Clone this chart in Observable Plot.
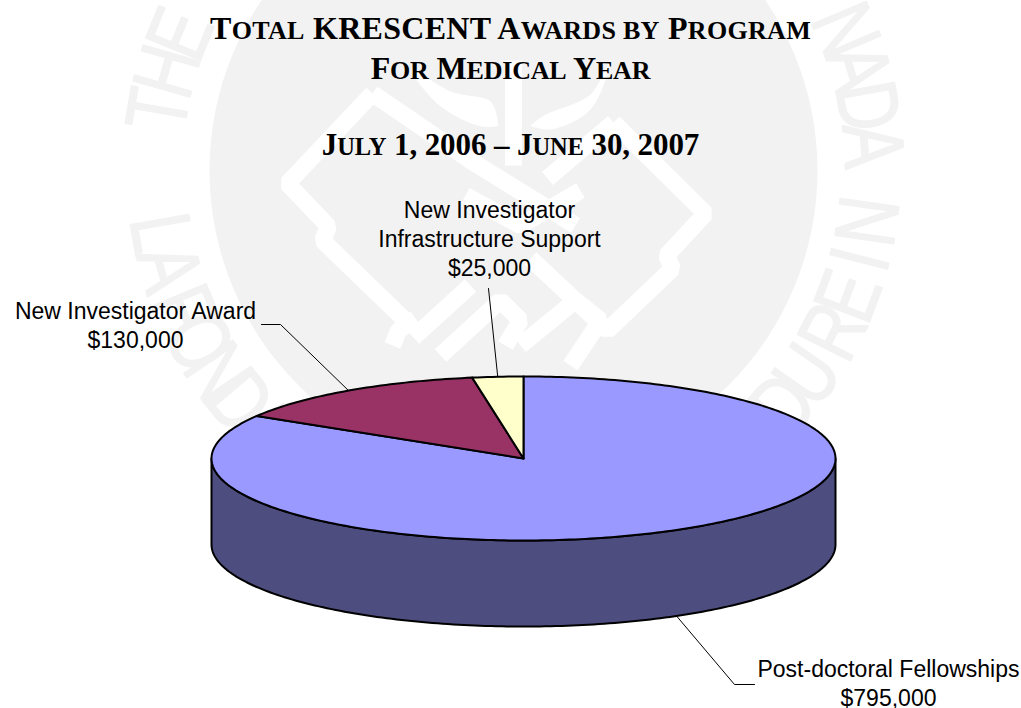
<!DOCTYPE html>
<html><head><meta charset="utf-8">
<script src="https://cdn.jsdelivr.net/npm/d3@7"></script>
<script src="https://cdn.jsdelivr.net/npm/@observablehq/plot@0.6"></script>
<style>
html,body{margin:0;padding:0;background:#fff;overflow:hidden}
#wrap{position:relative;width:1021px;height:708px}
#wrap svg{position:absolute;left:0;top:0;display:block;background:#fff}
.t{position:absolute;left:0;width:1021px;text-align:center;font-family:"Liberation Serif",serif;font-weight:bold;font-size:32px;line-height:36px;color:#000;white-space:nowrap;z-index:2}
.t small{font-size:26px}
</style></head><body><div id="wrap">
<div class="t" style="top:10px;letter-spacing:.3px">T<small>OTAL</small> KRESCENT A<small>WARDS BY</small> P<small>ROGRAM</small></div>
<div class="t" style="top:50px;letter-spacing:-.2px">F<small>OR</small> M<small>EDICAL</small> Y<small>EAR</small></div>
<div class="t" style="top:127px;font-size:31px;letter-spacing:-.1px">J<small style="font-size:24.5px">ULY</small> 1, 2006 – J<small style="font-size:24.5px">UNE</small> 30, 2007</div>
</div>
<script>
// ---- chart values ----
const programs = ["Post-doctoral Fellowships","New Investigator Award","New Investigator Infrastructure Support"];
const awards = [795000,130000,25000];
const topColors = ["#9999ff","#993366","#ffffcc"];
const sideColors = ["#4d4d80","#4d1a33","#808066"];
const labelLines = [
  ["Post-doctoral Fellowships","$795,000"],
  ["New Investigator Award","$130,000"],
  ["New Investigator","Infrastructure Support","$25,000"]
];
// ---- layout (page pixels) ----
const pie = {left:211,right:835,top:376,bottom:540,depth:86};
const cx=(pie.left+pie.right)/2, cy=(pie.top+pie.bottom)/2, rx=(pie.right-pie.left)/2, ry=(pie.bottom-pie.top)/2;
const ux=p=>(p-cx)/rx, uy=p=>(cy-p)/ry;
const dz=pie.depth/ry;
const leaderBends=[[[734,684],[754,684]],[[280,324],[261,324]],[[488,288]]];
const labelAt=[[888,682],[135,324],[489,237]];

// slices run clockwise from twelve o'clock
const total=d3.sum(awards);
let acc=0;
const slices=awards.map((v,i)=>{const a0=acc/total*360;acc+=v;return {i,a0,a1:acc/total*360};});
const P=(a,drop=0)=>{const r=a*Math.PI/180;return {x:Math.sin(r),y:Math.cos(r)-drop};};
const arc=(a0,a1)=>{const out=[];const n=Math.max(2,Math.ceil(a1-a0));for(let k=0;k<=n;k++)out.push(a0+(a1-a0)*k/n);return out;};

const tops=slices.flatMap(s=>[{x:0,y:0},...arc(s.a0,s.a1).map(a=>P(a)),{x:0,y:0}].map(p=>({...p,i:s.i})));
const sides=slices.flatMap(s=>{
  const a0=Math.max(s.a0,90),a1=Math.min(s.a1,270);
  if(a1<=a0)return [];
  const as=arc(a0,a1);
  return [...as.map(a=>P(a)),...as.slice().reverse().map(a=>P(a,dz))].concat([P(a0)]).map(p=>({...p,i:s.i}));
});

const leaders=slices.flatMap(s=>{
  const mid=(s.a0+s.a1)/2;
  const anchor=P(mid,(mid>90&&mid<270)?dz:0);
  return [anchor,...leaderBends[s.i].map(([x,y])=>({x:ux(x),y:uy(y)}))].map(p=>({...p,i:s.i}));
});
const labels=slices.map(s=>({x:ux(labelAt[s.i][0]),y:uy(labelAt[s.i][1]),text:labelLines[s.i].join("\n")}));

// ---- faint foundation emblem behind the chart ----
const wm={x:513,y:170,r:304,c:"#f2f2f2",ring:359};
function ringLetters(str,start,step,lower,gap){
  let a=start,out=[];
  for(const ch of str){
    if(ch===" "){a+=step*gap;continue;}
    const r=a*Math.PI/180;
    const py=wm.y+(lower?1:-1)*wm.ring*Math.cos(r);
    if(py>=0) out.push({x:ux(wm.x+wm.ring*Math.sin(r)),y:uy(py),ch,rot:lower?-a:a});
    a+=step;
  }
  return out;
}
const ringText=[
  ...ringLetters("THE KIDNEY FOUNDATION OF CANADA",-80.3,6.3,false,0.1),
  ...ringLetters("LA FONDATION CANADIENNE",-80,5.8,true,0.2),
  ...ringLetters("DU REIN",49,6.2,true,0.3)
];
const bands=[
 [[372,93],[287,183],[328,226],[322,240],[410,325]],
 [[372,93],[470,160],[575,225]],
 [[613,122],[547,178]],
 [[613,122],[705,213],[666,255],[672,268],[607,330],[530,258]],
 [[465,195],[520,225],[580,190]],
 [[413,337],[470,285]],[[392,345],[398,330],[415,318]],
 [[440,355],[500,300],[520,320],[505,345]],[[520,345],[575,300],[600,320],[570,365]],
 [[513,60],[513,165]]
].flatMap((b,g)=>b.map(([x,y])=>({x:ux(x),y:uy(y),g})));
const leaves=[
 [[412,70],[450,92],[490,102],[497,125],[497,125],[480,125],[440,105]],
 [[610,60],[590,95],[545,115],[531,125],[531,125],[552,128],[590,108]]
].flatMap((b,g)=>b.map(([x,y])=>({x:ux(x),y:uy(y),g})));

const chart=Plot.plot({
  width:1021,height:708,margin:0,
  x:{domain:[-1,1],range:[pie.left,pie.right],axis:null},
  y:{domain:[1,-1],range:[pie.top,pie.bottom],axis:null},
  marks:[
    Plot.dot([wm],{x:d=>ux(d.x),y:d=>uy(d.y),r:wm.r,fill:wm.c,stroke:null}),
    Plot.line(bands,{x:"x",y:"y",z:"g",stroke:"#fff",strokeWidth:17,strokeLinejoin:"miter",strokeLinecap:"butt"}),
    Plot.line(leaves,{x:"x",y:"y",z:"g",fill:"#fff",stroke:"#fff",curve:"catmull-rom-closed"}),
    Plot.text(ringText,{x:"x",y:"y",text:"ch",rotate:"rot",fontSize:86,className:"ring",fontFamily:'"Liberation Sans Narrow","Liberation Sans",sans-serif',fill:"#f2f2f2",stroke:"#f2f2f2",strokeWidth:1.5}),
    Plot.line(sides,{x:"x",y:"y",z:"i",fill:d=>sideColors[d.i],stroke:"#000",strokeWidth:2}),
    Plot.line(tops,{x:"x",y:"y",z:"i",fill:d=>topColors[d.i],stroke:"#000",strokeWidth:2,strokeLinejoin:"round"}),
    Plot.line(leaders,{x:"x",y:"y",z:"i",stroke:"#000",strokeWidth:1}),
    Plot.text(labels,{x:"x",y:"y",text:"text",fontSize:23,lineHeight:1.26,fontFamily:'"Liberation Sans",Arial,sans-serif',fill:"#000"})
  ]
});
// the emblem's ring lettering is condensed
chart.querySelectorAll(".ring text").forEach(t=>t.setAttribute("transform",(t.getAttribute("transform")||"")+" scale(0.78,1)"));
document.getElementById("wrap").prepend(chart);
</script></body></html>
